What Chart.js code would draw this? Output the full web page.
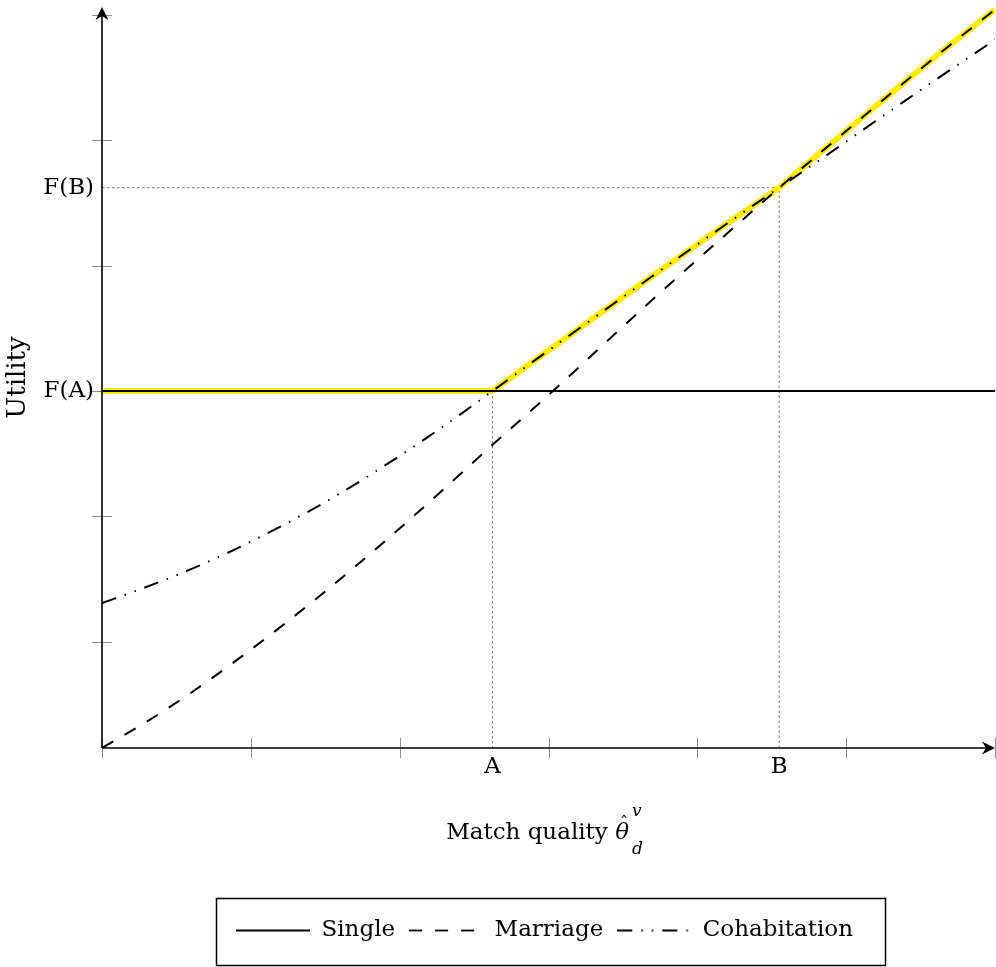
<!DOCTYPE html>
<html>
<head>
<meta charset="utf-8">
<script src="https://cdn.jsdelivr.net/npm/chart.js@4"></script>
<style>
  body { margin: 0; background: #fff; }
</style>
</head>
<body>
<canvas id="utilityChart" width="996" height="967"></canvas>
<script>
  // thresholds on the axes
  const xA = 2.624, xB = 4.55;
  const yFA = 3, yFB = 4.62;
  const xTickLabels = ['A', 'B'];
  const yTickLabels = ['F(A)', 'F(B)'];
  const xTickMarks = [0, 1, 2, 3, 4, 5, 6];
  const yTickMarks = [1, 2, 3, 4, 5, 6];

  // curves
  const singleX = [0, 6];
  const singleY = [3, 3];

  const marriageX = [0, 0.32, 0.62, 0.93, 1.22, 1.51, 1.80, 2.07, 2.36, 2.624, 3.03, 3.43, 3.73, 3.99, 4.26, 4.55, 4.82, 5.11, 5.38, 5.67, 6.0];
  const marriageY = [0.155, 0.379, 0.613, 0.877, 1.138, 1.413, 1.70, 1.978, 2.286, 2.571, 3.0, 3.437, 3.761, 4.037, 4.318, 4.62, 4.892, 5.182, 5.449, 5.73, 6.04];

  const cohabX = [0, 0.28, 0.57, 0.84, 1.11, 1.38, 1.64, 1.89, 2.15, 2.42, 2.624, 2.83, 3.14, 3.43, 3.75, 4.06, 4.30, 4.55, 4.87, 5.13, 5.38, 5.62, 5.87, 6.0];
  const cohabY = [1.31, 1.43, 1.566, 1.708, 1.865, 2.035, 2.213, 2.398, 2.601, 2.824, 3.0, 3.177, 3.442, 3.689, 3.959, 4.218, 4.417, 4.62, 4.88, 5.095, 5.30, 5.495, 5.695, 5.80];

  const xy = (xs, ys) => xs.map((x, i) => ({x: x, y: ys[i]}));
  const part = (xs, ys, lo, hi) => xy(xs, ys).filter(p => p.x >= lo && p.x <= hi);

  const yMin = 0.155, yMax = 6.06;

  Chart.defaults.font.family = '"DejaVu Serif", serif';
  Chart.defaults.font.size = 23;
  Chart.defaults.color = '#000';

  // little line samples for the legend (keeps the dash patterns)
  function lineSample(dash) {
    const c = document.createElement('canvas');
    c.width = 74;
    c.height = 5;
    const g = c.getContext('2d');
    g.strokeStyle = '#000';
    g.lineWidth = 1.8;
    g.setLineDash(dash);
    g.beginPath();
    g.moveTo(0, 2.5);
    g.lineTo(74, 2.5);
    g.stroke();
    return c;
  }

  const marriageDash = [13, 13];
  const cohabDash = [15, 9, 1.5, 9, 1.5, 9];

  const black = {borderColor: '#000', borderWidth: 2, pointRadius: 0, fill: false, cubicInterpolationMode: 'monotone'};
  const yellow = {borderColor: '#ffec00', borderWidth: 6, pointRadius: 0, fill: false, cubicInterpolationMode: 'monotone', borderJoinStyle: 'round'};
  const guide = {borderColor: '#7a7a7a', borderWidth: 1, borderDash: [2.5, 2.5], pointRadius: 0, fill: false, tension: 0};

  const axisPlugin = {
    id: 'axisPlugin',
    afterLayout(chart) {
      // pgfplots centres the legend under the axis, not the canvas
      const lg = chart.legend;
      const a = chart.chartArea;
      const shift = (a.left + a.right) / 2 - 4 - (lg.left + lg.right) / 2;
      lg.left += shift;
      lg.right += shift;
    },
    beforeDatasetsDraw(chart) {
      const {ctx, chartArea: a} = chart;
      const x = chart.scales.x, y = chart.scales.y;
      ctx.save();
      ctx.strokeStyle = '#8c8c8c';
      ctx.lineWidth = 1;
      ctx.beginPath();
      xTickMarks.forEach(v => {
        const px = Math.round(x.getPixelForValue(v)) + 0.5;
        ctx.moveTo(px, a.bottom - 10);
        ctx.lineTo(px, a.bottom + 10);
      });
      yTickMarks.forEach(v => {
        const py = Math.round(y.getPixelForValue(v)) + 0.5;
        ctx.moveTo(a.left - 10, py);
        ctx.lineTo(a.left + 10, py);
      });
      ctx.stroke();
      ctx.restore();
    },
    afterDatasetsDraw(chart) {
      const {ctx, chartArea: a} = chart;
      ctx.save();
      ctx.strokeStyle = '#000';
      ctx.fillStyle = '#000';
      ctx.lineWidth = 1.6;
      ctx.beginPath();
      ctx.moveTo(a.left, a.bottom);
      ctx.lineTo(a.right - 8, a.bottom);
      ctx.moveTo(a.left, a.bottom);
      ctx.lineTo(a.left, a.top + 8);
      ctx.stroke();
      const head = (tx, ty, rot) => {
        ctx.save();
        ctx.translate(tx, ty);
        ctx.rotate(rot);
        ctx.beginPath();
        ctx.moveTo(0, 0);
        ctx.lineTo(-13, -6.5);
        ctx.lineTo(-9, 0);
        ctx.lineTo(-13, 6.5);
        ctx.closePath();
        ctx.fill();
        ctx.restore();
      };
      head(a.right, a.bottom, 0);
      head(a.left, a.top, -Math.PI / 2);
      ctx.restore();
    },
    afterDraw(chart) {
      const {ctx, chartArea: a} = chart;
      ctx.save();
      ctx.fillStyle = '#000';
      ctx.textBaseline = 'alphabetic';
      // x-axis title with hat, superscript and subscript
      const main = 'Match quality ';
      ctx.font = '23px "DejaVu Serif"';
      const w1 = ctx.measureText(main).width;
      ctx.font = 'italic 23px "DejaVu Serif"';
      const w2 = ctx.measureText('\u03b8').width;
      ctx.font = 'italic 17px "DejaVu Serif"';
      const w3 = Math.max(ctx.measureText('v').width, ctx.measureText('d').width);
      const cx = (a.left + a.right) / 2 - 4;
      let tx = cx - (w1 + w2 + 3 + w3) / 2;
      const base = 839;
      ctx.font = '23px "DejaVu Serif"';
      ctx.fillText(main, tx, base);
      tx += w1;
      ctx.font = 'italic 23px "DejaVu Serif"';
      ctx.fillText('\u03b8', tx, base);
      ctx.font = '17px "DejaVu Serif"';
      const hw = ctx.measureText('\u02c6').width;
      ctx.fillText('\u02c6', tx + w2 / 2 - hw / 2 + 2, base - 11);
      tx += w2 + 3;
      ctx.font = 'italic 17px "DejaVu Serif"';
      ctx.fillText('v', tx, base - 23);
      ctx.fillText('d', tx, base + 15);
      // legend frame
      const hb = chart.legend.legendHitBoxes;
      if (hb && hb.length) {
        const first = hb[0], last = hb[hb.length - 1];
        const cy = first.top + first.height / 2;
        const left = Math.round(first.left - 20) + 0.5;
        const right = Math.round(last.left + last.width + 32) + 0.5;
        ctx.strokeStyle = '#000';
        ctx.lineWidth = 1.5;
        ctx.strokeRect(left, Math.round(cy - 33) + 0.5, right - left, 67);
      }
      ctx.restore();
    }
  };

  const ctx1 = document.getElementById('utilityChart').getContext('2d');

  const utilityChart = new Chart(ctx1, {
    type: 'line',
    data: {
      datasets: [
        Object.assign({label: 'Single', data: xy(singleX, singleY), order: 1, pointStyle: lineSample([])}, black, {tension: 0}),
        Object.assign({label: 'Marriage', data: xy(marriageX, marriageY), order: 2, borderDash: marriageDash, pointStyle: lineSample(marriageDash)}, black),
        Object.assign({label: 'Cohabitation', data: xy(cohabX, cohabY), order: 3, borderDash: cohabDash, pointStyle: lineSample(cohabDash)}, black),
        Object.assign({label: '', data: part(singleX.concat([xA]), singleY.concat([yFA]), 0, xA).sort((p, q) => p.x - q.x), order: 10}, yellow, {tension: 0}),
        Object.assign({label: '', data: part(cohabX, cohabY, xA, xB), order: 11}, yellow),
        Object.assign({label: '', data: part(marriageX, marriageY, xB, 6), order: 12}, yellow),
        Object.assign({label: '', data: [{x: 0, y: yFB}, {x: xB, y: yFB}, {x: xB, y: yMin}], order: 20}, guide),
        Object.assign({label: '', data: [{x: xA, y: yFA}, {x: xA, y: yMin}], order: 21}, guide)
      ]
    },
    options: {
      responsive: false,
      animation: false,
      events: [],
      layout: {
        padding: {left: 0, right: 1, top: 7, bottom: 15}
      },
      scales: {
        x: {
          type: 'linear',
          min: 0,
          max: 6,
          grid: {display: false},
          border: {display: false},
          afterBuildTicks: scale => { scale.ticks = [{value: xA}, {value: xB}]; },
          afterFit: scale => { scale.height = 157; scale.paddingLeft = 0; scale.paddingRight = 0; },
          ticks: {
            autoSkip: false,
            maxRotation: 0,
            padding: -3,
            callback: (value, index) => xTickLabels[index]
          }
        },
        y: {
          type: 'linear',
          min: yMin,
          max: yMax,
          grid: {display: false},
          border: {display: false},
          afterBuildTicks: scale => { scale.ticks = [{value: yFA}, {value: yFB}]; },
          afterFit: scale => { scale.width = 102; scale.paddingTop = 0; scale.paddingBottom = 0; },
          ticks: {
            autoSkip: false,
            padding: 0,
            callback: (value, index) => yTickLabels[index]
          },
          title: {
            display: true,
            text: 'Utility',
            font: {size: 26},
            padding: {top: 3, bottom: 0}
          }
        }
      },
      plugins: {
        tooltip: {enabled: false},
        legend: {
          position: 'bottom',
          labels: {
            usePointStyle: true,
            pointStyleWidth: 74,
            padding: 14,
            color: '#000',
            filter: item => item.text !== ''
          }
        }
      }
    },
    plugins: [axisPlugin]
  });
</script>
</body>
</html>
